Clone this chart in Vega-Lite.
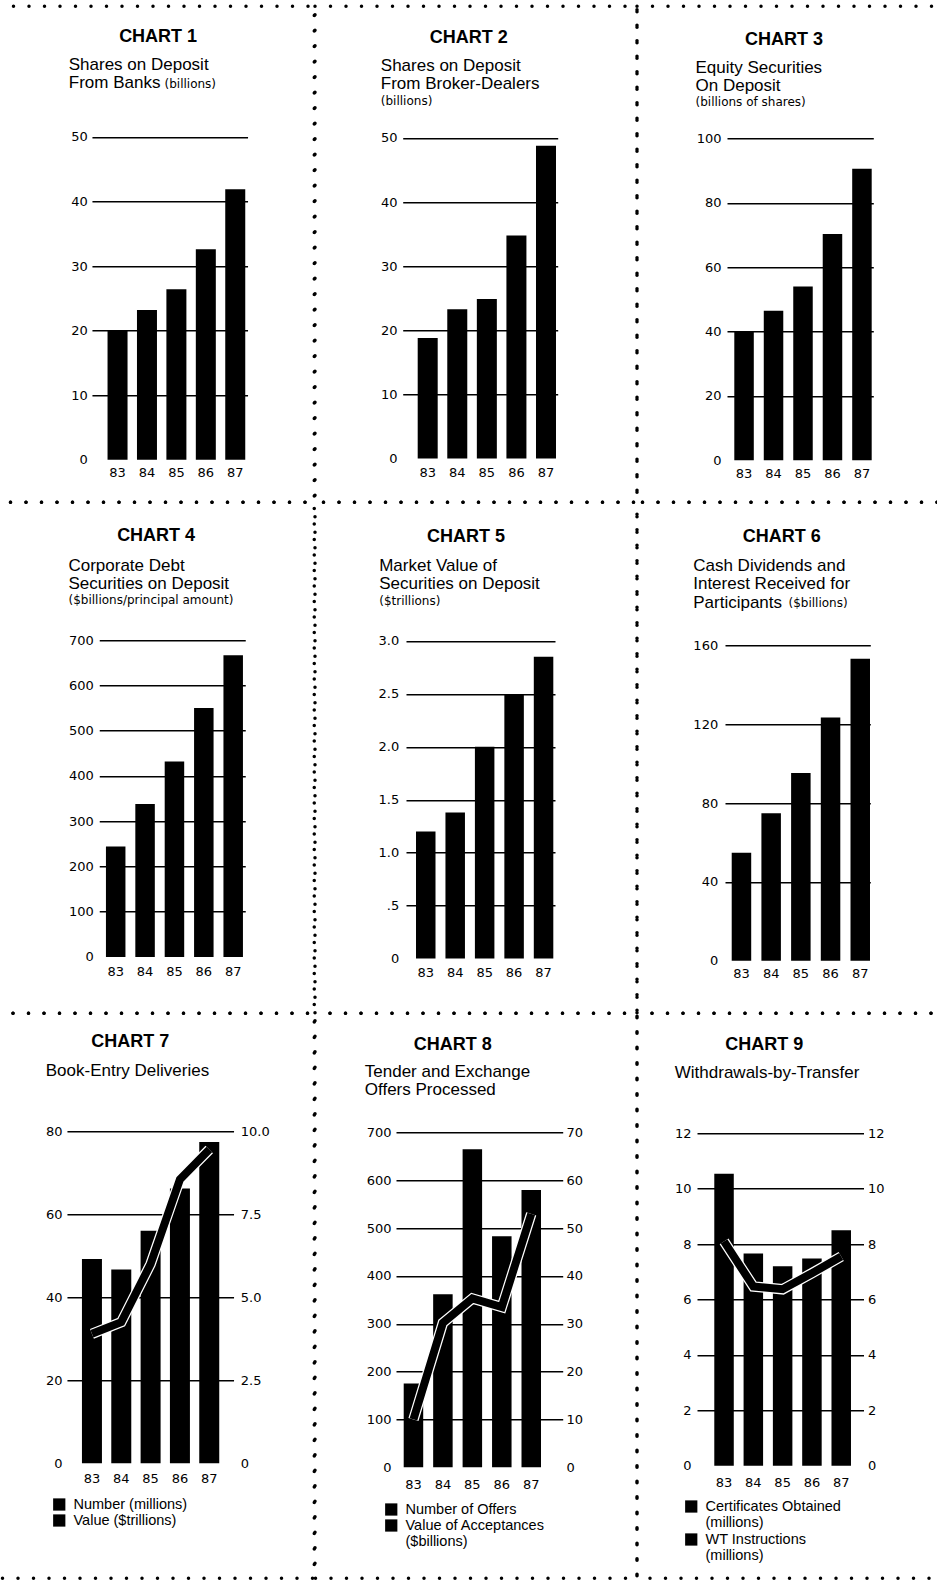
{
  "$schema": "https://vega.github.io/schema/vega-lite/v6.json",
  "padding": {"left": -4, "top": 4.25, "right": 0, "bottom": 0},
  "columns": 3,
  "spacing": 0,
  "bounds": "flush",
  "align": "each",
  "resolve": {"scale": {"color": "independent"}, "legend": {"color": "independent"}},
  "concat": [
    {
      "width": 316.25, "height": 496,
      "title": {"text": "CHART 1", "dx": 2, "offset": -39.5},
      "data": {"values": [
        {"year": "83", "value": 20.0}, {"year": "84", "value": 23.2}, {"year": "85", "value": 26.4},
        {"year": "86", "value": 32.6}, {"year": "87", "value": 41.9}]},
      "mark": {"type": "bar", "color": "black"},
      "encoding": {
        "x": {"field": "year", "type": "ordinal",
          "scale": {"range": [93.95, 249.55], "paddingInner": 0.3203, "paddingOuter": 0.304, "align": 0.8715},
          "axis": {"offset": -42.4, "labelPadding": 13.1, "title": "(billions)", "titleX": 166, "titleY": -372.3}},
        "y": {"field": "value", "type": "quantitative",
          "scale": {"domain": [0, 50], "range": [453.6, 130.7], "nice": false},
          "axis": {"values": [0, 10, 20, 30, 40, 50], "offset": -93.95, "labelPadding": 4.7,
            "gridOpacity": {"condition": {"test": "datum.value === 0", "value": 0}, "value": 1},
            "title": ["Shares on Deposit", "From Banks"], "titleX": -23.7, "titleY": 63}}
      }
    },
    {
      "width": 322, "height": 496,
      "title": {"text": "CHART 2", "dx": -7.3, "offset": -40.5},
      "data": {"values": [
        {"year": "83", "value": 18.8}, {"year": "84", "value": 23.3}, {"year": "85", "value": 24.9},
        {"year": "86", "value": 34.8}, {"year": "87", "value": 48.8}]},
      "mark": {"type": "bar", "color": "black"},
      "encoding": {
        "x": {"field": "year", "type": "ordinal",
          "scale": {"range": [87.7, 242.7], "paddingInner": 0.3237, "paddingOuter": 0.2824, "align": 0.898},
          "axis": {"offset": -43.7, "labelPadding": 14.4, "title": "(billions)", "titleX": 65.3, "titleY": -354.3}},
        "y": {"field": "value", "type": "quantitative",
          "scale": {"domain": [0, 50], "range": [452.3, 131.7], "nice": false},
          "axis": {"values": [0, 10, 20, 30, 40, 50], "offset": -87.7, "labelPadding": 5.7,
            "gridOpacity": {"condition": {"test": "datum.value === 0", "value": 0}, "value": 1},
            "title": ["Shares on Deposit", "From Broker-Dealers"], "titleX": -22.4, "titleY": 64}}
      }
    },
    {
      "width": 305, "height": 496,
      "title": {"text": "CHART 3", "dx": -5.5, "offset": -42.5},
      "data": {"values": [
        {"year": "83", "value": 40.0}, {"year": "84", "value": 46.5}, {"year": "85", "value": 54.0},
        {"year": "86", "value": 70.3}, {"year": "87", "value": 90.6}]},
      "mark": {"type": "bar", "color": "black"},
      "encoding": {
        "x": {"field": "year", "type": "ordinal",
          "scale": {"range": [90, 236.3], "paddingInner": 0.3384, "paddingOuter": 0.151, "align": 0.82},
          "axis": {"offset": -42, "labelPadding": 13.3, "title": "(billions of shares)", "titleX": 58, "titleY": -355}},
        "y": {"field": "value", "type": "quantitative",
          "scale": {"domain": [0, 100], "range": [454, 132.3], "nice": false},
          "axis": {"values": [0, 20, 40, 60, 80, 100], "offset": -90, "labelPadding": 6,
            "gridOpacity": {"condition": {"test": "datum.value === 0", "value": 0}, "value": 1},
            "title": ["Equity Securities", "On Deposit"], "titleX": -32, "titleY": 66}}
      }
    },
    {
      "width": 316.25, "height": 511,
      "view": {"strokeDashOffset": 3},
      "title": {"text": "CHART 4", "dx": 0, "offset": -42.5},
      "data": {"values": [
        {"year": "83", "value": 244}, {"year": "84", "value": 338}, {"year": "85", "value": 432},
        {"year": "86", "value": 550}, {"year": "87", "value": 667}]},
      "mark": {"type": "bar", "color": "black"},
      "encoding": {
        "x": {"field": "year", "type": "ordinal",
          "scale": {"range": [101.25, 247.25], "paddingInner": 0.3362, "paddingOuter": 0.1532, "align": 0.744},
          "axis": {"offset": -56.3, "labelPadding": 14.3, "title": "($billions/principal amount)", "titleX": 69.95, "titleY": -353.4}},
        "y": {"field": "value", "type": "quantitative",
          "scale": {"domain": [0, 700], "range": [454.7, 138], "nice": false},
          "axis": {"values": [0, 100, 200, 300, 400, 500, 600, 700], "offset": -101.25, "labelPadding": 6,
            "gridOpacity": {"condition": {"test": "datum.value === 0", "value": 0}, "value": 1},
            "title": ["Corporate Debt", "Securities on Deposit"], "titleX": -31.3, "titleY": 68}}
      }
    },
    {
      "width": 322, "height": 511,
      "view": {"strokeDashOffset": 7},
      "title": {"text": "CHART 5", "dx": -10, "offset": -43.5},
      "data": {"values": [
        {"year": "83", "value": 1.20}, {"year": "84", "value": 1.38}, {"year": "85", "value": 2.00},
        {"year": "86", "value": 2.50}, {"year": "87", "value": 2.85}]},
      "mark": {"type": "bar", "color": "black"},
      "encoding": {
        "x": {"field": "year", "type": "ordinal",
          "scale": {"range": [91, 240], "paddingInner": 0.3379, "paddingOuter": 0.1987, "align": 0.855},
          "axis": {"offset": -54.7, "labelPadding": 14.4, "title": "($trillions)", "titleX": 63.7, "titleY": -354.3}},
        "y": {"field": "value", "type": "quantitative",
          "scale": {"domain": [0, 3], "range": [456.3, 138.7], "nice": false},
          "axis": {"values": [0, 0.5, 1, 1.5, 2, 2.5, 3], "offset": -91, "labelPadding": 7.3,
            "labelExpr": "datum.value == 0 ? '0' : datum.value == 0.5 ? '.5' : format(datum.value, '.1f')",
            "gridOpacity": {"condition": {"test": "datum.value === 0", "value": 0}, "value": 1},
            "title": ["Market Value of", "Securities on Deposit"], "titleX": -27.3, "titleY": 68}}
      }
    },
    {
      "width": 305, "height": 511,
      "view": {"strokeDashOffset": 10},
      "title": {"text": "CHART 6", "dx": -7.8, "offset": -44},
      "data": {"values": [
        {"year": "83", "value": 54.8}, {"year": "84", "value": 74.8}, {"year": "85", "value": 95.2},
        {"year": "86", "value": 123.4}, {"year": "87", "value": 153.1}]},
      "mark": {"type": "bar", "color": "black"},
      "encoding": {
        "x": {"field": "year", "type": "ordinal",
          "scale": {"range": [88, 233.3], "paddingInner": 0.3434, "paddingOuter": 0.118, "align": 0.957},
          "axis": {"offset": -52.5, "labelPadding": 12.8, "title": "($billions)", "titleX": 151, "titleY": -354.5}},
        "y": {"field": "value", "type": "quantitative",
          "scale": {"domain": [0, 160], "range": [458.5, 143], "nice": false},
          "axis": {"values": [0, 40, 80, 120, 160], "offset": -88, "labelPadding": 7.3,
            "gridOpacity": {"condition": {"test": "datum.value === 0", "value": 0}, "value": 1},
            "title": ["Cash Dividends and", "Interest Received for", "Participants"], "titleX": -32.3, "titleY": 68}}
      }
    },
    {
      "width": 316.25, "height": 565,
      "view": {"strokeDashOffset": 0.5},
      "title": {"text": "CHART 7", "dx": -25.9, "offset": -37.4},
      "data": {"values": [
        {"year": "83", "number": 49.2, "value": 3.9},
        {"year": "84", "number": 46.7, "value": 4.25},
        {"year": "85", "number": 56.0, "value": 6.0},
        {"year": "86", "number": 66.2, "value": 8.55},
        {"year": "87", "number": 77.4, "value": 9.45}]},
      "layer": [
        {
          "mark": {"type": "bar"},
          "encoding": {
            "x": {"field": "year", "type": "ordinal",
              "scale": {"range": [68.95, 235.55], "paddingInner": 0.318, "paddingOuter": 0.4996, "align": 0.512},
              "axis": {"offset": -115, "labelPadding": 15, "title": null}},
            "y": {"field": "number", "type": "quantitative",
              "scale": {"domain": [0, 80], "range": [450, 118], "nice": false},
              "axis": {"values": [0, 20, 40, 60, 80], "offset": -68.95, "labelPadding": 5,
                "gridOpacity": {"condition": {"test": "datum.value === 0", "value": 0}, "value": 1},
                "title": ["Book-Entry Deliveries"], "titleX": -21.7, "titleY": 61.8}},
            "color": {"datum": "Number (millions)", "type": "nominal",
              "scale": {"domain": ["Number (millions)", "Value ($trillions)"], "range": ["black", "black"]},
              "legend": {"orient": "none", "legendX": 54, "legendY": 484, "title": null, "direction": "vertical"}}
          }
        },
        {
          "layer": [
            {
              "mark": {"type": "line", "color": "white", "strokeWidth": 10.5, "strokeJoin": "miter"},
              "encoding": {
                "x": {"field": "year", "type": "ordinal", "title": null},
                "y": {"field": "value", "type": "quantitative",
                  "scale": {"domain": [0, 10], "range": [450, 118], "nice": false},
                  "axis": {"orient": "right", "values": [0, 2.5, 5, 7.5, 10], "offset": -80.7, "labelPadding": 6.7,
                    "grid": false, "title": null,
                    "labelExpr": "datum.value == 0 ? '0' : format(datum.value, '.1f')"}}
              }
            },
            {
              "mark": {"type": "line", "strokeWidth": 8, "strokeJoin": "miter"},
              "encoding": {
                "x": {"field": "year", "type": "ordinal", "title": null},
                "y": {"field": "value", "type": "quantitative", "title": null},
                "color": {"datum": "Value ($trillions)", "type": "nominal"}
              }
            }
          ]
        }
      ],
      "resolve": {"scale": {"y": "independent"}}
    },
    {
      "width": 322, "height": 565,
      "view": {"strokeDashOffset": 0.5},
      "title": {"text": "CHART 8", "dx": -23.3, "offset": -40.4},
      "data": {"values": [
        {"year": "83", "number": 175, "value": 10},
        {"year": "84", "number": 362, "value": 30.2},
        {"year": "85", "number": 665, "value": 35.3},
        {"year": "86", "number": 483, "value": 33.5},
        {"year": "87", "number": 580, "value": 53}]},
      "layer": [
        {
          "mark": {"type": "bar"},
          "encoding": {
            "x": {"field": "year", "type": "ordinal",
              "scale": {"range": [81, 247.7], "paddingInner": 0.3379, "paddingOuter": 0.4992, "align": 0.262},
              "axis": {"offset": -111, "labelPadding": 17, "title": null}},
            "y": {"field": "number", "type": "quantitative",
              "scale": {"domain": [0, 700], "range": [454, 119.3], "nice": false},
              "axis": {"values": [0, 100, 200, 300, 400, 500, 600, 700], "offset": -81, "labelPadding": 5,
                "gridOpacity": {"condition": {"test": "datum.value === 0", "value": 0}, "value": 1},
                "title": ["Tender and Exchange", "Offers Processed"], "titleX": -31.7, "titleY": 62.9}},
            "color": {"datum": "Number of Offers", "type": "nominal",
              "scale": {"domain": ["Number of Offers", "Value of Acceptances ($billions)"], "range": ["black", "black"]},
              "legend": {"orient": "none", "legendX": 69, "legendY": 489, "title": null, "direction": "vertical",
                "labelExpr": "datum.label == 'Number of Offers' ? datum.label : ['Value of Acceptances', '($billions)']"}}
          }
        },
        {
          "layer": [
            {
              "mark": {"type": "line", "color": "white", "strokeWidth": 10.5, "strokeJoin": "miter"},
              "encoding": {
                "x": {"field": "year", "type": "ordinal", "title": null},
                "y": {"field": "value", "type": "quantitative",
                  "scale": {"domain": [0, 70], "range": [454, 119.3], "nice": false},
                  "axis": {"orient": "right", "values": [0, 10, 20, 30, 40, 50, 60, 70], "offset": -74.3, "labelPadding": 3.3,
                    "grid": false, "title": null}}
              }
            },
            {
              "mark": {"type": "line", "strokeWidth": 8, "strokeJoin": "miter"},
              "encoding": {
                "x": {"field": "year", "type": "ordinal", "title": null},
                "y": {"field": "value", "type": "quantitative", "title": null},
                "color": {"datum": "Value of Acceptances ($billions)", "type": "nominal"}
              }
            }
          ]
        }
      ],
      "resolve": {"scale": {"y": "independent"}}
    },
    {
      "width": 305, "height": 565,
      "view": {"strokeDashOffset": 0.5},
      "title": {"text": "CHART 9", "dx": -25.2, "offset": -40.4},
      "data": {"values": [
        {"year": "83", "number": 10.54, "value": 8.1},
        {"year": "84", "number": 7.66, "value": 6.47},
        {"year": "85", "number": 7.2, "value": 6.37},
        {"year": "86", "number": 7.48, "value": 6.95},
        {"year": "87", "number": 8.5, "value": 7.55}]},
      "layer": [
        {
          "mark": {"type": "bar"},
          "encoding": {
            "x": {"field": "year", "type": "ordinal",
              "scale": {"range": [60, 226.5], "paddingInner": 0.3345, "paddingOuter": 0.5086, "align": 0.58},
              "axis": {"offset": -112.5, "labelPadding": 17, "title": null}},
            "y": {"field": "number", "type": "quantitative",
              "scale": {"domain": [0, 12], "range": [452.5, 120], "nice": false},
              "axis": {"values": [0, 2, 4, 6, 8, 10, 12], "offset": -60, "labelPadding": 6,
                "gridOpacity": {"condition": {"test": "datum.value === 0", "value": 0}, "value": 1},
                "title": ["Withdrawals-by-Transfer"], "titleX": -22.7, "titleY": 64.4}},
            "color": {"datum": "Certificates Obtained (millions)", "type": "nominal",
              "scale": {"domain": ["Certificates Obtained (millions)", "WT Instructions (millions)"], "range": ["black", "black"]},
              "legend": {"orient": "none", "legendX": 47, "legendY": 486, "title": null, "direction": "vertical",
                "labelExpr": "datum.label == 'WT Instructions (millions)' ? ['WT Instructions', '(millions)'] : ['Certificates Obtained', '(millions)']"}}
          }
        },
        {
          "layer": [
            {
              "mark": {"type": "line", "color": "white", "strokeWidth": 10.5, "strokeJoin": "miter"},
              "encoding": {
                "x": {"field": "year", "type": "ordinal", "title": null},
                "y": {"field": "value", "type": "quantitative",
                  "scale": {"domain": [0, 12], "range": [452.5, 120], "nice": false},
                  "axis": {"orient": "right", "values": [0, 2, 4, 6, 8, 10, 12], "offset": -78.5, "labelPadding": 4,
                    "grid": false, "title": null}}
              }
            },
            {
              "mark": {"type": "line", "strokeWidth": 8, "strokeJoin": "miter"},
              "encoding": {
                "x": {"field": "year", "type": "ordinal", "title": null},
                "y": {"field": "value", "type": "quantitative", "title": null},
                "color": {"datum": "WT Instructions (millions)", "type": "nominal"}
              }
            }
          ]
        }
      ],
      "resolve": {"scale": {"y": "independent"}}
    }
  ],
  "config": {
    "background": "white",
    "view": {"stroke": "black", "strokeWidth": 3.5, "strokeDash": [0, 15.5], "strokeCap": "round"},
    "title": {"font": "Liberation Sans", "fontSize": 18, "fontWeight": "bold", "color": "black", "anchor": "middle", "frame": "group"},
    "axis": {
      "domain": false, "ticks": false,
      "labelFont": "DejaVu Sans", "labelFontSize": 13, "labelColor": "black",
      "labelOverlap": false, "labelFlush": false, "labelBound": false,
      "titleColor": "black", "titleFont": "Liberation Sans", "titleFontWeight": "normal", "titleFontSize": 17,
      "titleAngle": 0, "titleAlign": "left", "titleBaseline": "alphabetic", "titleLineHeight": 18.5, "titleLimit": 1000,
      "zindex": 0
    },
    "axisX": {"grid": false, "labelAngle": 0, "labelBaseline": "middle", "titleFont": "DejaVu Sans", "titleFontSize": 12},
    "axisY": {"grid": true, "gridColor": "black", "gridWidth": 1.3},
    "legend": {
      "labelFont": "Liberation Sans", "labelFontSize": 14.5, "labelColor": "black",
      "symbolType": "square", "symbolSize": 150, "symbolFillColor": "black", "symbolStrokeColor": "black",
      "symbolStrokeWidth": 0, "symbolOpacity": 1, "labelOffset": 7, "rowPadding": 1, "padding": 0, "labelLimit": 400
    }
  }
}
